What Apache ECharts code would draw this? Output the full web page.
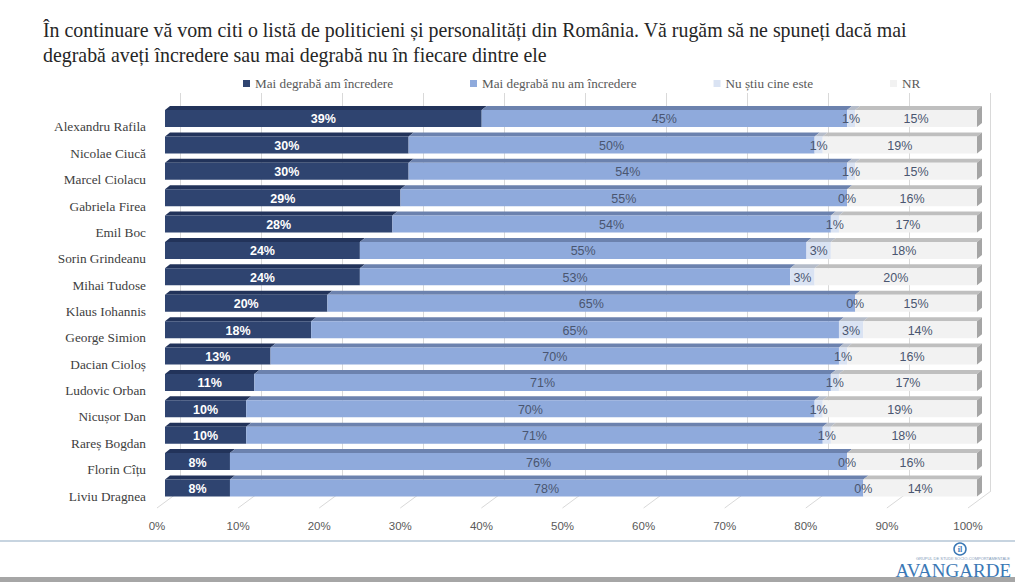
<!DOCTYPE html>
<html>
<head>
<meta charset="utf-8">
<title>Încredere politicieni</title>
<script src="https://cdn.jsdelivr.net/npm/echarts@6.0.0/dist/echarts.min.js"></script>
<style>
  html, body { margin: 0; padding: 0; background: #fff; }
  #chart { width: 1015px; height: 582px; }
</style>
</head>
<body>
<div id="chart"></div>
<script>
// date sondaj (procente)
var names = ['Alexandru Rafila', 'Nicolae Ciucă', 'Marcel Ciolacu', 'Gabriela Firea', 'Emil Boc',
  'Sorin Grindeanu', 'Mihai Tudose', 'Klaus Iohannis', 'George Simion', 'Dacian Cioloș',
  'Ludovic Orban', 'Nicușor Dan', 'Rareș Bogdan', 'Florin Cîțu', 'Liviu Dragnea'];
var incredere   = [39, 30, 30, 29, 28, 24, 24, 20, 18, 13, 11, 10, 10, 8, 8];
var neincredere = [45, 50, 54, 55, 54, 55, 53, 65, 65, 70, 71, 70, 71, 76, 78];
var nuStiu      = [1, 1, 1, 0, 1, 3, 3, 0, 3, 1, 1, 1, 1, 0, 0];
var nr          = [15, 19, 15, 16, 17, 18, 20, 15, 14, 16, 17, 19, 18, 16, 14];
var ticks = [0, 10, 20, 30, 40, 50, 60, 70, 80, 90, 100];
var seriesNames = ['Mai degrabă am încredere', 'Mai degrabă nu am încredere', 'Nu știu cine este', 'NR'];

var frontColors = ['#2F4470', '#8FAADC', '#DAE3F3', '#F2F2F2'];
var topColors = ['#22335A', '#6C82AE', '#B5BCC9', '#BFBFBF'];

var myChart = echarts.init(document.getElementById('chart'), null, { renderer: 'svg' });

var sansFont = 'Liberation Sans';
var serifFont = 'Liberation Serif';

var barSeries = [incredere, neincredere, nuStiu, nr].map(function (vals, k) {
  return {
    name: seriesNames[k],
    type: 'bar',
    stack: 'total',
    xAxisIndex: 0,
    yAxisIndex: 0,
    barWidth: 17,
    z: 3,
    itemStyle: { color: frontColors[k] },
    label: {
      show: true,
      position: 'inside',
      formatter: '{c}%',
      offset: [0, 1],
      color: k === 0 ? '#ffffff' : '#4A5670',
      fontWeight: k === 0 ? 'bold' : 'normal',
      fontFamily: sansFont,
      fontSize: 12.5
    },
    data: vals
  };
});

// fetele de sus si capatul drept (efect 3D)
var depthData = names.map(function (n, i) {
  return [i, incredere[i], neincredere[i], nuStiu[i], nr[i]];
});

function renderDepth(params, api) {
  var cat = api.value(0);
  var h = 17, dx = 5, dy = 4;
  var children = [];
  var acc = 0, yTop = 0, yBot = 0;
  for (var k = 0; k < 4; k++) {
    var v = api.value(k + 1);
    var p0 = api.coord([acc, cat]);
    var p1 = api.coord([acc + v, cat]);
    acc += v;
    yTop = p0[1] - h / 2;
    yBot = p0[1] + h / 2;
    children.push({
      type: 'polygon',
      shape: { points: [[p0[0], yTop], [p1[0], yTop], [p1[0] + dx, yTop - dy], [p0[0] + dx, yTop - dy]] },
      style: { fill: topColors[k] }
    });
  }
  var pe = api.coord([acc, cat]);
  children.push({
    type: 'polygon',
    shape: { points: [[pe[0], yTop], [pe[0] + dx, yTop - dy], [pe[0] + dx, yBot - dy], [pe[0], yBot]] },
    style: { fill: '#A5A5A5' }
  });
  return { type: 'group', children: children };
}

// liniile podelei
function renderFloor(params, api) {
  var p = api.coord([api.value(0), 0]);
  var yb = params.coordSys.y + params.coordSys.height;
  return {
    type: 'line',
    shape: { x1: p[0], y1: yb, x2: p[0] + 23, y2: yb - 17 },
    style: { stroke: '#D9D9D9', lineWidth: 1 }
  };
}

myChart.setOption({
  animation: false,
  title: {
    text: 'În continuare vă vom citi o listă de politicieni și personalități din România. Vă rugăm să ne spuneți dacă mai\ndegrabă aveți încredere sau mai degrabă nu în fiecare dintre ele',
    left: 43,
    top: 17,
    padding: 0,
    textStyle: {
      fontFamily: serifFont,
      fontSize: 19.9,
      fontWeight: 'normal',
      color: '#262626',
      lineHeight: 25
    }
  },
  legend: {
    data: seriesNames,
    left: 238,
    top: 72,
    icon: 'rect',
    itemWidth: 7,
    itemHeight: 7,
    itemGap: 77,
    textStyle: { fontFamily: serifFont, fontSize: 13.2, color: '#595959' }
  },
  grid: [
    { left: 165, right: 38, top: 105.3, bottom: 80.8 },
    { left: 180, right: 25, top: 93, bottom: 91 },
    { left: 157, right: 47, top: 100, bottom: 74 },
    { left: 157, right: 47, top: 113.8, bottom: 72.8 }
  ],
  xAxis: [
    { gridIndex: 0, type: 'value', min: 0, max: 100, show: false },
    {
      gridIndex: 1, type: 'value', min: 0, max: 100, interval: 10,
      axisLine: { show: false }, axisTick: { show: false }, axisLabel: { show: false },
      splitLine: { show: true, lineStyle: { color: '#D9D9D9' } }
    },
    {
      gridIndex: 2, type: 'value', min: 0, max: 100, interval: 10,
      axisLine: { show: false }, axisTick: { show: false }, splitLine: { show: false },
      axisLabel: { formatter: '{value}%', margin: 12, color: '#595959', fontFamily: sansFont, fontSize: 11.5 }
    },
    { gridIndex: 3, type: 'value', min: 0, max: 100, show: false }
  ],
  yAxis: [
    { gridIndex: 0, type: 'category', data: names, inverse: true, show: false },
    { gridIndex: 1, type: 'category', data: names, inverse: true, show: false },
    { gridIndex: 2, type: 'value', min: 0, max: 1, show: false },
    {
      gridIndex: 3, type: 'category', data: names, inverse: true,
      axisLine: { show: false }, axisTick: { show: false },
      axisLabel: { margin: 11, color: '#404040', fontFamily: serifFont, fontSize: 13.3 }
    }
  ],
  series: barSeries.concat([
    {
      type: 'custom',
      name: '3d',
      xAxisIndex: 0,
      yAxisIndex: 0,
      silent: true,
      z: 3,
      renderItem: renderDepth,
      encode: { x: [1, 2, 3, 4], y: 0 },
      data: depthData
    },
    {
      type: 'custom',
      name: 'podea',
      xAxisIndex: 2,
      yAxisIndex: 2,
      silent: true,
      z: 1,
      renderItem: renderFloor,
      encode: { x: 0 },
      data: ticks.map(function (t) { return [t]; })
    }
  ]),
  graphic: [
    { type: 'line', shape: { x1: 0, y1: 541, x2: 1015, y2: 541 }, style: { stroke: '#B4C6D6', lineWidth: 1.5 } },
    { type: 'rect', shape: { x: 0, y: 577, width: 1015, height: 5 }, style: { fill: '#A6A6A6' } },
    { type: 'circle', shape: { cx: 960, cy: 549, r: 6 }, style: { fill: '#fff', stroke: '#3B78B5', lineWidth: 1.5 } },
    { type: 'text', x: 960, y: 549, style: { text: 'il', fill: '#3B78B5', font: 'bold 8px ' + serifFont, align: 'center', verticalAlign: 'middle' } },
    { type: 'text', x: 1010, y: 558, style: { text: 'GRUPUL DE STUDII SOCIO-COMPORTAMENTALE', fill: '#7F9BB8', font: '4px ' + sansFont, align: 'right', verticalAlign: 'middle' } },
    { type: 'text', x: 1011, y: 570, style: { text: 'AVANGARDE', fill: '#3B78B5', font: '19px ' + serifFont, align: 'right', verticalAlign: 'middle' } }
  ]
});
</script>
</body>
</html>
